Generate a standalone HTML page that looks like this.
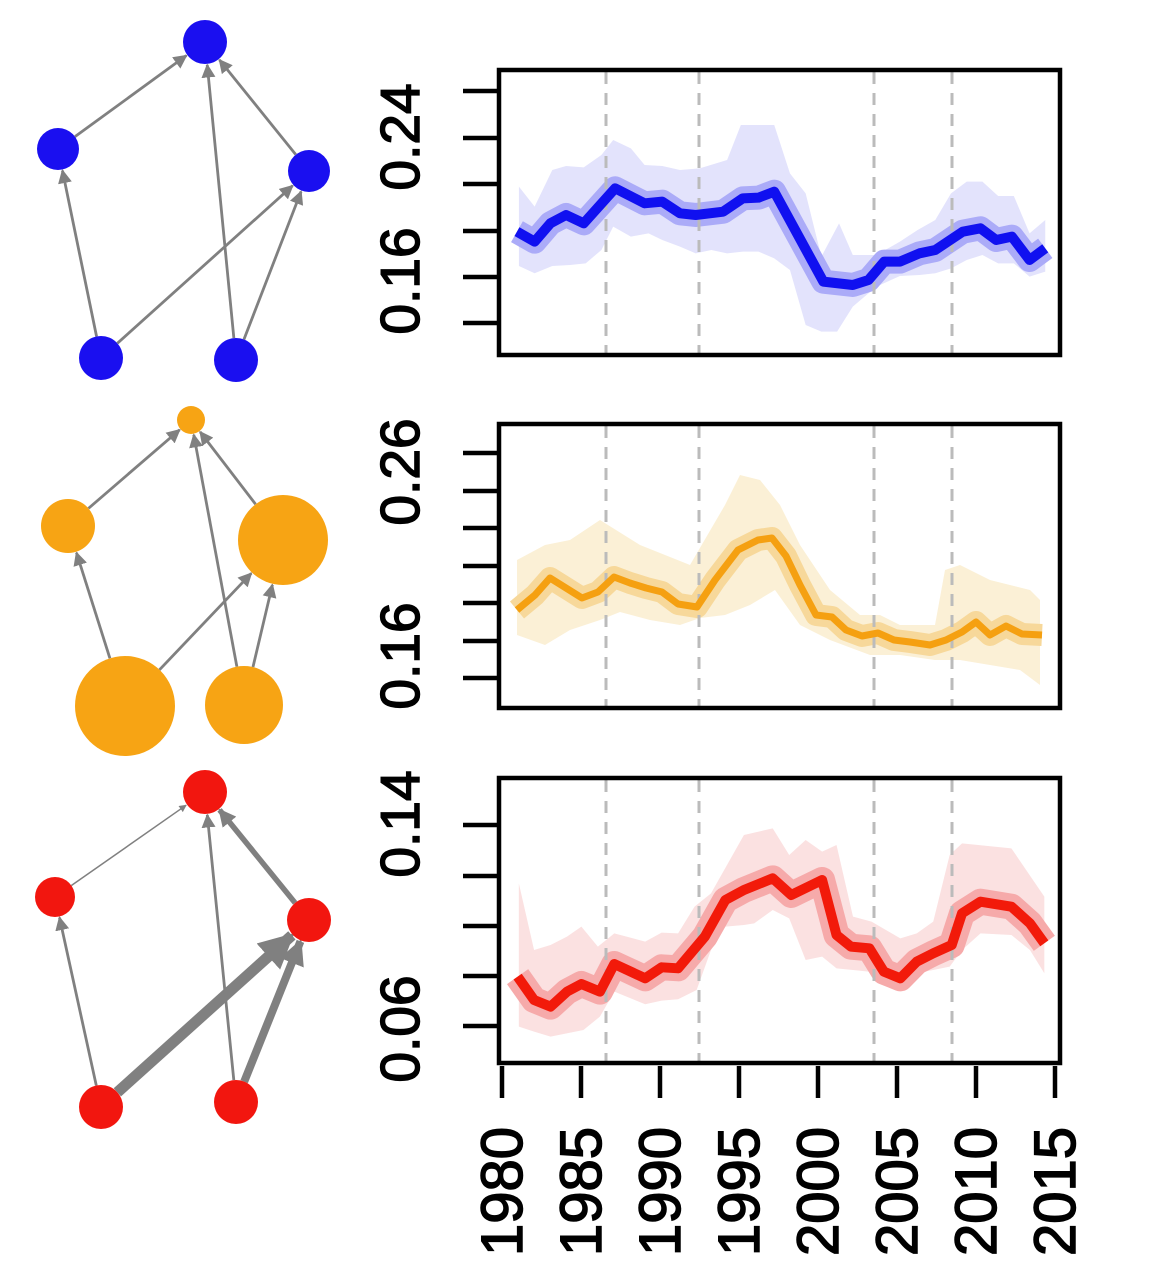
<!DOCTYPE html>
<html><head><meta charset="utf-8"><style>
html,body{margin:0;padding:0;background:#fff;}
svg{display:block;}
text{font-family:"Liberation Sans",sans-serif;}
</style></head><body>
<svg id="s" width="1156" height="1283" viewBox="0 0 1156 1283" xmlns="http://www.w3.org/2000/svg">
<defs>
<marker id="ah" viewBox="0 0 10 10" refX="9" refY="5" markerWidth="5" markerHeight="5" orient="auto" markerUnits="strokeWidth"><path d="M0,0 L10,5 L0,10 z" fill="#808080"/></marker>
<marker id="ah2" viewBox="0 0 10 10" refX="9" refY="5" markerWidth="3.2" markerHeight="3.2" orient="auto" markerUnits="strokeWidth"><path d="M0,0 L10,5 L0,10 z" fill="#808080"/></marker>
</defs>

<g transform="translate(460,60) scale(0.3928,0.3333)">
<polygon fill="#E3E3FC" points="150,380 190,440 235,330 270,318 315,322 360,285 390,240 435,265 470,315 515,318 560,330 610,325 680,300 715,195 800,195 840,340 880,400 920,590 965,490 1000,585 1060,585 1120,545 1165,510 1210,480 1250,400 1290,365 1330,365 1370,408 1410,408 1450,520 1490,480 1490,635 1450,650 1410,610 1370,610 1330,585 1290,600 1250,625 1210,640 1170,645 1120,648 1060,680 1000,740 960,815 920,815 880,795 840,630 800,595 760,575 720,575 680,580 640,570 600,580 560,560 515,540 480,520 435,530 390,500 360,570 320,610 280,615 235,618 190,640 150,618"/>
<polyline fill="none" stroke="#ABABF8" stroke-width="24" vector-effect="non-scaling-stroke" stroke-linejoin="round" points="145,515 190,545 230,490 270,465 315,490 395,385 470,430 515,425 560,460 600,465 670,455 720,415 760,413 800,395 925,665 1000,675 1040,660 1080,605 1120,605 1170,580 1210,570 1280,515 1325,505 1365,540 1405,530 1450,600 1490,565"/>
</g>
<g transform="translate(460,760) scale(0.4115,0.3333)">
<polygon fill="#FBE1E1" points="143,370 180,570 220,555 260,530 295,500 335,560 375,520 450,545 490,518 530,520 570,440 610,400 690,225 760,205 800,285 840,240 880,275 915,255 955,470 1000,485 1070,535 1110,520 1150,485 1190,285 1220,250 1340,265 1420,410 1420,640 1385,570 1340,525 1265,520 1220,570 1190,620 1150,630 1110,640 1070,645 955,630 915,625 880,590 840,600 800,475 760,450 715,490 690,495 645,500 610,570 575,690 530,718 490,722 450,733 375,695 340,770 300,810 220,830 180,815 143,800"/>
<polyline fill="none" stroke="#F6AAAA" stroke-width="26" vector-effect="non-scaling-stroke" stroke-linejoin="round" points="140,650 180,720 220,740 260,695 295,672 340,695 375,612 450,655 490,622 530,625 595,530 645,420 690,390 760,355 805,405 880,360 915,525 950,560 995,565 1030,635 1070,655 1110,605 1150,580 1195,555 1220,460 1265,425 1340,440 1385,490 1420,550"/>
</g>
<polygon fill="#FBF0D6" points="517,560 545,545 570,540 600,520 640,545 690,565 725,505 740,475 760,480 780,505 800,545 830,590 860,615 880,615 900,625 935,625 945,570 960,565 990,580 1030,590 1040,600 1040,685 1020,670 990,665 960,660 935,660 900,655 870,655 830,640 800,625 775,590 750,605 725,615 700,618 680,625 650,620 620,612 600,620 570,630 545,645 517,635"/>
<polyline fill="none" stroke="#F7D89A" stroke-width="22" stroke-linejoin="round" points="517,610 535,595 550,578 566,588 582,598 598,592 614,577 630,583 646,588 662,592 678,604 697,607 715,580 738,550 758,540 772,538 786,556 800,585 816,615 832,617 846,630 862,636 878,633 894,640 910,642 930,645 946,640 962,632 976,622 990,635 1006,626 1022,634 1042,635"/>

<g stroke="#BBBBBB" stroke-width="3" stroke-dasharray="12,9">
<line x1="606" y1="72" x2="606" y2="355"/><line x1="699" y1="72" x2="699" y2="355"/><line x1="874" y1="72" x2="874" y2="355"/><line x1="952" y1="72" x2="952" y2="355"/>
<line x1="606" y1="426" x2="606" y2="708"/><line x1="699" y1="426" x2="699" y2="708"/><line x1="874" y1="426" x2="874" y2="708"/><line x1="952" y1="426" x2="952" y2="708"/>
<line x1="606" y1="780" x2="606" y2="1063"/><line x1="699" y1="780" x2="699" y2="1063"/><line x1="874" y1="780" x2="874" y2="1063"/><line x1="952" y1="780" x2="952" y2="1063"/>
</g>

<g transform="translate(460,60) scale(0.3928,0.3333)">
<polyline fill="none" stroke="#1010F0" stroke-width="10" vector-effect="non-scaling-stroke" stroke-linejoin="round" points="145,515 190,545 230,490 270,465 315,490 395,385 470,430 515,425 560,460 600,465 670,455 720,415 760,413 800,395 925,665 1000,675 1040,660 1080,605 1120,605 1170,580 1210,570 1280,515 1325,505 1365,540 1405,530 1450,600 1490,565"/>
</g>
<polyline fill="none" stroke="#F5A011" stroke-width="7" stroke-linejoin="round" points="517,610 535,595 550,578 566,588 582,598 598,592 614,577 630,583 646,588 662,592 678,604 697,607 715,580 738,550 758,540 772,538 786,556 800,585 816,615 832,617 846,630 862,636 878,633 894,640 910,642 930,645 946,640 962,632 976,622 990,635 1006,626 1022,634 1042,635"/>
<g transform="translate(460,760) scale(0.4115,0.3333)">
<polyline fill="none" stroke="#F21A0A" stroke-width="10" vector-effect="non-scaling-stroke" stroke-linejoin="round" points="140,650 180,720 220,740 260,695 295,672 340,695 375,612 450,655 490,622 530,625 595,530 645,420 690,390 760,355 805,405 880,360 915,525 950,560 995,565 1030,635 1070,655 1110,605 1150,580 1195,555 1220,460 1265,425 1340,440 1385,490 1420,550"/>
</g>

<g fill="none" stroke="#000" stroke-width="4.5">
<rect x="499" y="70" width="561" height="285"/>
<rect x="499" y="424" width="561" height="284"/>
<rect x="499" y="778" width="561" height="285"/>
</g>
<g stroke="#000" stroke-width="4.5">
<line x1="463" y1="91" x2="499" y2="91"/><line x1="463" y1="138" x2="499" y2="138"/><line x1="463" y1="184" x2="499" y2="184"/><line x1="463" y1="231" x2="499" y2="231"/><line x1="463" y1="277" x2="499" y2="277"/><line x1="463" y1="323" x2="499" y2="323"/>
<line x1="463" y1="453" x2="499" y2="453"/><line x1="463" y1="491" x2="499" y2="491"/><line x1="463" y1="528" x2="499" y2="528"/><line x1="463" y1="566" x2="499" y2="566"/><line x1="463" y1="603" x2="499" y2="603"/><line x1="463" y1="641" x2="499" y2="641"/><line x1="463" y1="678" x2="499" y2="678"/>
<line x1="463" y1="825" x2="499" y2="825"/><line x1="463" y1="876" x2="499" y2="876"/><line x1="463" y1="926" x2="499" y2="926"/><line x1="463" y1="976" x2="499" y2="976"/><line x1="463" y1="1026" x2="499" y2="1026"/>
<line x1="502" y1="1066" x2="502" y2="1098"/><line x1="581" y1="1066" x2="581" y2="1098"/><line x1="660" y1="1066" x2="660" y2="1098"/><line x1="739" y1="1066" x2="739" y2="1098"/><line x1="818" y1="1066" x2="818" y2="1098"/><line x1="897" y1="1066" x2="897" y2="1098"/><line x1="976" y1="1066" x2="976" y2="1098"/><line x1="1055" y1="1066" x2="1055" y2="1098"/>
</g>
<g font-size="55" fill="#000" stroke="#000" stroke-width="1.5" text-anchor="middle">
<text transform="translate(419,137) rotate(-90)">0.24</text>
<text transform="translate(419,281) rotate(-90)">0.16</text>
<text transform="translate(419,472) rotate(-90)">0.26</text>
<text transform="translate(419,656) rotate(-90)">0.16</text>
<text transform="translate(419,824) rotate(-90)">0.14</text>
<text transform="translate(419,1029) rotate(-90)">0.06</text>
</g>
<g font-size="58" fill="#000" stroke="#000" stroke-width="1.5" text-anchor="start">
<text transform="translate(522,1256) rotate(-90)">1980</text>
<text transform="translate(601,1256) rotate(-90)">1985</text>
<text transform="translate(680,1256) rotate(-90)">1990</text>
<text transform="translate(759,1256) rotate(-90)">1995</text>
<text transform="translate(838,1256) rotate(-90)">2000</text>
<text transform="translate(917,1256) rotate(-90)">2005</text>
<text transform="translate(996,1256) rotate(-90)">2010</text>
<text transform="translate(1075,1256) rotate(-90)">2015</text>
</g>
<g id="nets"></g>
</svg>
<script>
var NS="http://www.w3.org/2000/svg",g=document.getElementById("nets");
function el(n,a){var e=document.createElementNS(NS,n);for(var k in a)e.setAttribute(k,a[k]);g.appendChild(e);return e;}
function net(nodes,color,edges){
 edges.forEach(function(ed){var a=nodes[ed[0]],b=nodes[ed[1]],w=ed[2];
  var dx=b[0]-a[0],dy=b[1]-a[1],L=Math.sqrt(dx*dx+dy*dy),ux=dx/L,uy=dy/L;
  var x1=a[0]+ux*a[2],y1=a[1]+uy*a[2],x2=b[0]-ux*(b[2]+1),y2=b[1]-uy*(b[2]+1);
  el("line",{x1:x1,y1:y1,x2:x2,y2:y2,stroke:"#808080","stroke-width":w,"marker-end":w>4?"url(#ah2)":"url(#ah)"});
 });
 nodes.forEach(function(n){el("circle",{cx:n[0],cy:n[1],r:n[2],fill:color});});
}
var E=[[1,0,2.8],[3,1,2.8],[3,2,2.8],[4,0,2.8],[4,2,2.8],[2,0,2.8]];
net([[205,42,22],[58,149,21],[309,171,21],[101,358,22],[236,360,22]],"#1A0FF0",E);
net([[191,420,14],[68,526,27],[283,540,45],[125,706,50],[244,705,39]],"#F7A414",E);
net([[205,792,22],[55,897,20],[309,920,22],[101,1107,22],[236,1102,22]],"#F2160F",
 [[1,0,1.5],[3,1,2.8],[3,2,11],[4,0,2.8],[4,2,8],[2,0,5.5]]);
</script>
</body></html>
